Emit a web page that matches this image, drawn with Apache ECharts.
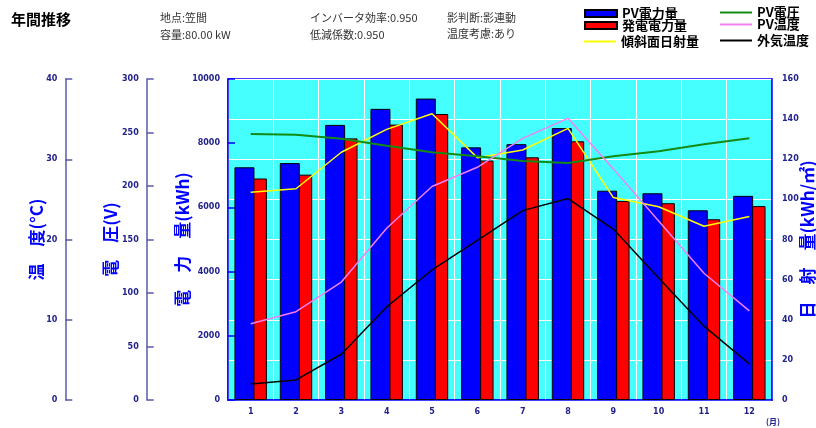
<!DOCTYPE html>
<html>
<head>
<meta charset="utf-8">
<script src="https://cdn.jsdelivr.net/npm/echarts@6/dist/echarts.min.js"></script>
<style>
html,body{margin:0;padding:0;background:#fff;}
#c{width:816px;height:428px;}
</style>
</head>
<body>
<div id="c"></div>
<script>
const months = ['1','2','3','4','5','6','7','8','9','10','11','12'];
const pvPower = [7250, 7380, 8570, 9070, 9390, 7870, 7970, 8470, 6520, 6440, 5910, 6360];
const genPower = [6900, 7020, 8150, 8580, 8910, 7460, 7560, 8060, 6200, 6130, 5630, 6040];
const irradiance = [103.5, 105.3, 123.5, 134.9, 142.7, 120.8, 124.6, 135.4, 100.9, 96.3, 86.6, 91.5];
const pvVoltage = [248.6, 248.0, 244.2, 237.7, 231.5, 227.7, 223.4, 221.5, 227.7, 232.4, 239.0, 244.6];
const pvTemp = [9.5, 11.0, 14.7, 21.4, 26.6, 29.0, 32.6, 35.1, 28.8, 22.3, 15.8, 11.1];
const outTemp = [2.0, 2.5, 5.7, 11.6, 16.2, 19.9, 23.6, 25.1, 21.3, 15.2, 9.2, 4.5];

const powerTicks = {min: 0, max: 10000, interval: 2000};
const voltTicks = {min: 0, max: 300, interval: 50};
const tempTicks = {min: 0, max: 40, interval: 10};
const irrTicks = {min: 0, max: 160, interval: 20};

const infoTexts = [
  ['地点:笠間', 160, 19], ['容量:80.00 kW', 160, 36],
  ['インバータ効率:0.950', 310, 19], ['低減係数:0.950', 310, 36],
  ['影判断:影連動', 447, 19], ['温度考慮:あり', 447, 35]
];

const FONT = "'DejaVu Sans','Noto Sans CJK JP',sans-serif";
const CJK = "'Noto Sans CJK JP','DejaVu Sans',sans-serif";
const labelColor = '#22228c';
const nameStyle = {color: '#0000ff', fontWeight: 'bold', fontSize: 17, fontFamily: CJK};
const tickLabel = {color: labelColor, fontWeight: 'bold', fontSize: 8, fontFamily: FONT,
  formatter: function (v) { return String(v); }};

function leftAxis(t, offset, name, gap, lineColor) {
  return {
    type: 'value', position: 'left', offset: offset,
    min: t.min, max: t.max, interval: t.interval,
    name: name, nameLocation: 'middle', nameRotate: 90, nameGap: gap,
    nameMoveOverlap: false,
    nameTextStyle: nameStyle,
    axisLine: {show: true, lineStyle: {color: lineColor, width: 1.5}},
    axisTick: {show: true, inside: true, length: 7, lineStyle: {color: lineColor, width: 1.5}},
    axisLabel: Object.assign({margin: 8}, tickLabel),
    splitLine: {show: false}
  };
}

function legendItem(name, left, top, isBar) {
  return {
    data: [name], left: left, top: top, padding: 0,
    itemWidth: 32, itemHeight: isBar ? 7 : 2,
    icon: 'rect',
    textStyle: {fontSize: 13, fontWeight: 'bold', color: '#000', fontFamily: CJK},
    selectedMode: false
  };
}

const chart = echarts.init(document.getElementById('c'), null, {renderer: 'canvas'});
const graphics = [{
  type: 'text', left: 11, top: 12,
  style: {text: '年間推移', font: "bold 15px " + CJK, fill: '#000'}
}, {
  type: 'text', left: 766, top: 418,
  style: {text: '(月)', font: "bold 8px " + CJK, fill: labelColor}
}];
infoTexts.forEach(function (t) {
  graphics.push({type: 'text', left: t[1], top: t[2] - 7,
    style: {text: t[0], font: "11px " + CJK, fill: '#333'}});
});

chart.setOption({
  animation: false,
  backgroundColor: '#ffffff',
  grid: {left: 228, right: 44, top: 79, bottom: 28, show: true,
    outerBoundsMode: 'none', containLabel: false,
    backgroundColor: '#45ffff', borderColor: '#0000ff', borderWidth: 1.5},
  legend: [
    legendItem('PV電力量', 584, 7, true),
    legendItem('発電電力量', 584, 19, true),
    legendItem('傾斜面日射量', 584, 35, false),
    legendItem('PV電圧', 720, 6, false),
    legendItem('PV温度', 720, 18, false),
    legendItem('外気温度', 720, 34, false)
  ],
  graphic: graphics,
  xAxis: {
    type: 'category', data: months, boundaryGap: true,
    axisLine: {show: true, lineStyle: {color: '#0000ff', width: 1.5}},
    axisTick: {show: false},
    axisLabel: Object.assign({margin: 8}, tickLabel),
    splitLine: {show: true, lineStyle: {color: '#ffffff', width: 1}}
  },
  yAxis: [
    leftAxis(powerTicks, 0, '電　力　量(kWh)', 37, '#0000ff'),
    leftAxis(voltTicks, 81.3, '電　圧(V)', 28, '#5a5aa8'),
    leftAxis(tempTicks, 162.7, '温　度(°C)', 20, '#5a5aa8'),
    {
      type: 'value', position: 'right', offset: 0,
      min: irrTicks.min, max: irrTicks.max, interval: irrTicks.interval,
      name: '日　射　量(kWh/㎡)', nameLocation: 'middle', nameRotate: 90, nameGap: 27,
      nameMoveOverlap: false,
      nameTextStyle: nameStyle,
      axisLine: {show: true, lineStyle: {color: '#0000ff', width: 1.5}},
      axisTick: {show: false},
      axisLabel: Object.assign({margin: 10}, tickLabel),
      splitLine: {show: true, lineStyle: {color: '#ffffff', width: 1}}
    }
  ],
  series: [
    {name: 'PV電力量', type: 'bar', yAxisIndex: 0, data: pvPower, z: 3,
      barWidth: 20, barGap: '-38%', color: '#0000ff',
      itemStyle: {color: '#0000ff', borderColor: '#000', borderWidth: 1}},
    {name: '発電電力量', type: 'bar', yAxisIndex: 0, data: genPower, z: 2,
      barWidth: 20, barGap: '-38%', color: '#ff0000',
      itemStyle: {color: '#ff0000', borderColor: '#000', borderWidth: 1}},
    {name: '傾斜面日射量', type: 'line', yAxisIndex: 3, data: irradiance, z: 5,
      showSymbol: false, color: '#ffff00', lineStyle: {color: '#ffff00', width: 1.5}},
    {name: 'PV電圧', type: 'line', yAxisIndex: 1, data: pvVoltage, z: 5,
      showSymbol: false, color: '#138a13', lineStyle: {color: '#138a13', width: 2}},
    {name: 'PV温度', type: 'line', yAxisIndex: 2, data: pvTemp, z: 5,
      showSymbol: false, color: '#f37ff3', lineStyle: {color: '#f37ff3', width: 1.5}},
    {name: '外気温度', type: 'line', yAxisIndex: 2, data: outTemp, z: 5,
      showSymbol: false, color: '#000000', lineStyle: {color: '#000000', width: 1.5}}
  ]
});
</script>
</body>
</html>
